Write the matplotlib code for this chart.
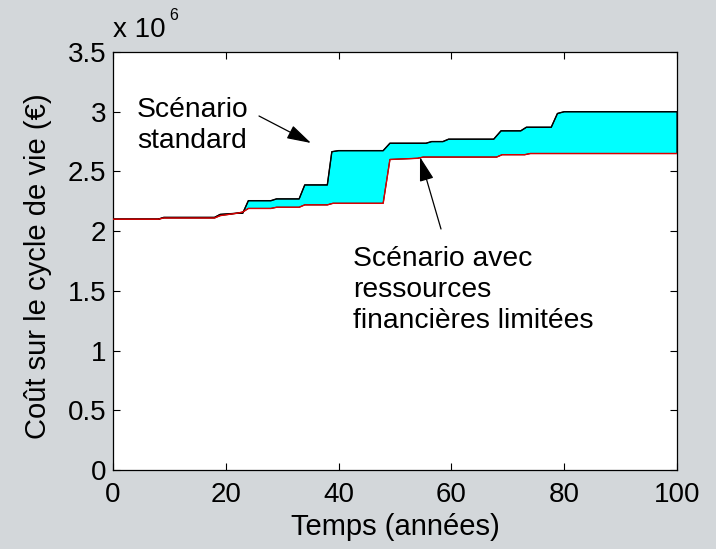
import matplotlib
matplotlib.use("Agg")
import matplotlib.pyplot as plt
from matplotlib.ticker import FuncFormatter

# ---- data (cost in euros, time in years) ----
t_standard = [0, 8, 9, 18, 19, 22, 23, 24, 28, 29, 33, 34, 38, 38.8, 40, 47.9, 49.1,
              55.5, 56.5, 58.5, 59.5, 67.5, 68.8, 72.3, 73.3, 77.7, 78.8, 80, 100]
cost_standard = [2.10e6, 2.10e6, 2.115e6, 2.115e6, 2.14e6, 2.15e6, 2.15e6, 2.255e6,
                 2.255e6, 2.27e6, 2.27e6, 2.387e6, 2.387e6, 2.665e6, 2.674e6, 2.674e6,
                 2.736e6, 2.736e6, 2.75e6, 2.75e6, 2.77e6, 2.77e6, 2.84e6, 2.84e6,
                 2.87e6, 2.87e6, 2.985e6, 3.0e6, 3.0e6]

t_limited = [0, 8, 9, 18, 19, 22, 23, 24, 28, 29, 33, 34, 38, 39, 47.9, 49.1,
             54, 55, 68, 69, 73, 74, 100]
cost_limited = [2.10e6, 2.10e6, 2.11e6, 2.11e6, 2.13e6, 2.15e6, 2.16e6, 2.19e6,
                2.19e6, 2.20e6, 2.20e6, 2.22e6, 2.22e6, 2.233e6, 2.233e6, 2.60e6,
                2.61e6, 2.62e6, 2.62e6, 2.64e6, 2.64e6, 2.65e6, 2.65e6]

x_ticks = [0, 20, 40, 60, 80, 100]
y_ticks = [0, 0.5e6, 1.0e6, 1.5e6, 2.0e6, 2.5e6, 3.0e6, 3.5e6]

label_standard = "Scénario\nstandard"
label_limited = "Scénario avec\nressources\nfinancières limitées"
x_label = "Temps (années)"
y_label = "Coût sur le cycle de vie (€)"

# ---- style ----
BG = "#D3D7DA"
FONT = ["Liberation Sans", "DejaVu Sans"]
plt.rcParams["font.family"] = FONT
FS_TICK = 20
FS_LABEL = 21
FS_ANN = 20.3

W, H = 716, 549
fig = plt.figure(figsize=(W / 100, H / 100), dpi=100, facecolor=BG)
L, R, T, B = 113, 677, 52, 470
ax = fig.add_axes([L / W, 1 - B / H, (R - L) / W, (B - T) / H])
ax.set_facecolor("white")

# filled band between the two scenarios
poly_x = list(t_standard) + list(reversed(t_limited))
poly_y = list(cost_standard) + list(reversed(cost_limited))
ax.fill(poly_x, poly_y, facecolor="#00FFFF", edgecolor="black", linewidth=0.8, zorder=2)
ax.plot(t_standard, cost_standard, color="black", linewidth=1.0, zorder=3)
ax.plot(t_limited, cost_limited, color="#E00000", linewidth=1.0, zorder=4)

ax.set_xlim(0, 100)
ax.set_ylim(0, 3.5e6)
ax.set_xticks(x_ticks)
ax.set_yticks(y_ticks)
ax.yaxis.set_major_formatter(FuncFormatter(lambda v, p: "%g" % (v / 1e6)))
ax.xaxis.set_major_formatter(FuncFormatter(lambda v, p: "%g" % v))
ax.tick_params(direction="in", length=5, width=0.8, top=True, right=True,
               labelsize=FS_TICK, colors="black")
ax.tick_params(axis="x", pad=9)
ax.tick_params(axis="y", pad=5)
for s in ax.spines.values():
    s.set_linewidth(0.9)

ax.set_xlabel(x_label, fontsize=FS_LABEL, labelpad=3)
ax.set_ylabel(y_label, fontsize=FS_LABEL)
ax.yaxis.set_label_coords(-0.108, 0.488)

# exponent label
fig.text(113 / W, 1 - 37 / H, "x 10", fontsize=FS_TICK, ha="left", va="baseline")
fig.text(169 / W, 1 - 19.5 / H, "6", fontsize=11.5, ha="left", va="baseline")

# annotations
def px2data(px, py):
    return ((px - L) / (R - L) * 100, (B - py) / (B - T) * 3.5e6)

arrow = dict(arrowstyle="-|>,head_length=0.75,head_width=0.22", color="black",
             lw=0.9, shrinkA=0, shrinkB=0, mutation_scale=20)
ax.annotate("", xy=px2data(311, 143), xytext=px2data(259, 116), arrowprops=arrow, zorder=6)
ax.annotate("", xy=px2data(420, 157), xytext=px2data(441, 229), arrowprops=arrow, zorder=6)

for i, line in enumerate(label_standard.split("\n")):
    fig.text(137 / W, 1 - (117 + 31.5 * i) / H, line, fontsize=FS_ANN, ha="left", va="baseline")
for i, line in enumerate(label_limited.split("\n")):
    fig.text(353 / W, 1 - (266.5 + 30.7 * i) / H, line, fontsize=FS_ANN, ha="left", va="baseline")

fig.savefig("out.png", dpi=100, facecolor=BG)
